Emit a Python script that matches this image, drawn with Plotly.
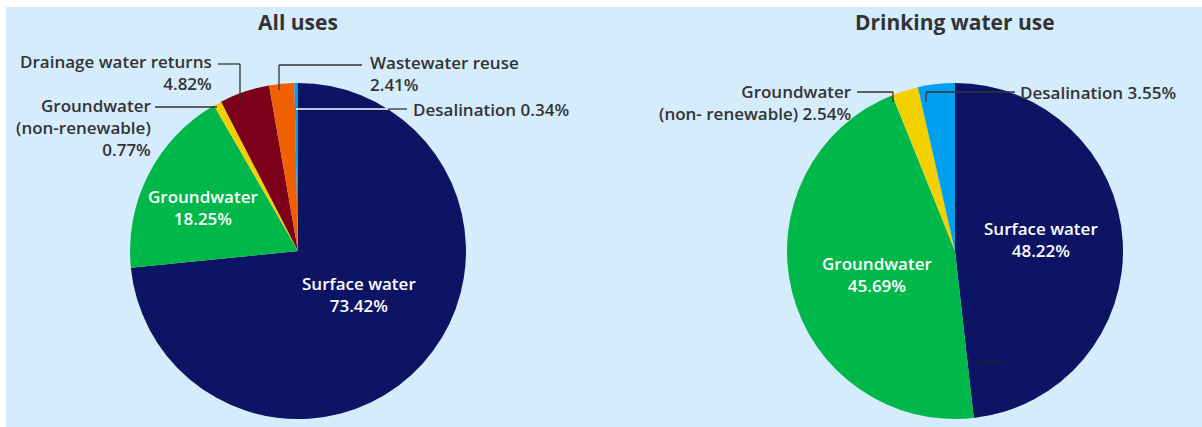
import plotly.graph_objects as go

W, H = 1202, 427

# ---- data ----
all_labels = ["Surface water", "Groundwater", "Groundwater (non-renewable)",
              "Drainage water returns", "Wastewater reuse", "Desalination"]
all_values = [73.42, 18.25, 0.77, 4.82, 2.41, 0.34]
all_colors = ["#0e1464", "#00b84a", "#f5d000", "#7d001a", "#f06000", "#00a0f0"]

drink_labels = ["Surface water", "Groundwater", "Groundwater (non-renewable)", "Desalination"]
drink_values = [48.22, 45.69, 2.54, 3.55]
drink_colors = ["#0e1464", "#00b84a", "#f5d000", "#00a0f0"]

titles = ["All uses", "Drinking water use"]

FONT = "Open Sans"
TXT = "#333333"


def px(x, y):
    return x / W, 1 - y / H


def dom(cx, cy, r):
    return dict(x=[(cx - r) / W, (cx + r) / W], y=[1 - (cy + r) / H, 1 - (cy - r) / H])


fig = go.Figure()
fig.add_trace(go.Pie(labels=all_labels, values=all_values, sort=False, direction="clockwise",
                     rotation=0, marker=dict(colors=all_colors, line=dict(width=0)),
                     textinfo="none", hoverinfo="label+percent", domain=dom(298, 251, 168),
                     showlegend=False))
fig.add_trace(go.Pie(labels=drink_labels, values=drink_values, sort=False, direction="clockwise",
                     rotation=0, marker=dict(colors=drink_colors, line=dict(width=0)),
                     textinfo="none", hoverinfo="label+percent", domain=dom(955, 251, 168),
                     showlegend=False))

shapes = []
# background panel
x0, y1 = px(6, 7)
shapes.append(dict(type="rect", xref="paper", yref="paper", x0=x0, x1=1, y0=0, y1=y1,
                   fillcolor="#d5ecfd", line=dict(width=0), layer="below"))


def line(pts, color="#333333", w=1.3):
    for (ax, ay), (bx, by) in zip(pts[:-1], pts[1:]):
        a = px(ax, ay)
        b = px(bx, by)
        shapes.append(dict(type="line", xref="paper", yref="paper", x0=a[0], y0=a[1],
                           x1=b[0], y1=b[1], line=dict(color=color, width=w)))


# left pie leaders
line([(218, 64), (240, 64), (240, 100)])
line([(362, 65), (279, 65), (279, 90)])
line([(296, 109), (388, 109)], color="#ffffff")
line([(388, 109), (407, 109)])
line([(155, 107), (217, 107)])
# right pie leaders
line([(857, 92), (893, 92), (893, 102)])
line([(1015, 92), (926, 92), (926, 102)])
line([(977, 362), (1003, 362)], color="#222222")

annotations = []


def ann(text, x, y, anchor="center", color=TXT, size=17, weight=600):
    ax, ay = px(x, y)
    annotations.append(dict(text=text, x=ax, y=ay,
                            xref="paper", yref="paper", xanchor=anchor, yanchor="middle",
                            showarrow=False, align={"left": "left", "right": "right"}.get(anchor, "center"),
                            font=dict(family=FONT, size=size, color=color, weight=weight)))


ann(titles[0], 298, 22, size=21, weight=700)
ann(titles[1], 955, 22, size=21, weight=700)

ann(f"{all_labels[3]}<br>{all_values[3]:.2f}%", 214, 73, anchor="right")
ann(f"{all_labels[4]}<br>{all_values[4]:.2f}%", 368, 74, anchor="left")
ann(f"{all_labels[5]} {all_values[5]:.2f}%", 411, 109, anchor="left")
ann(f"Groundwater<br>(non-renewable)<br>{all_values[2]:.2f}%", 153, 127, anchor="right")
ann(f"{all_labels[0]}<br>{all_values[0]:.2f}%", 359, 294, color="#ffffff")
ann(f"{all_labels[1]}<br>{all_values[1]:.2f}%", 203, 207, color="#ffffff")

ann(f"Groundwater<br>(non- renewable) {drink_values[2]:.2f}%", 854, 102, anchor="right")
ann(f"{drink_labels[3]} {drink_values[3]:.2f}%", 1018, 92, anchor="left")
ann(f"{drink_labels[0]}<br>{drink_values[0]:.2f}%", 1041, 240, color="#ffffff")
ann(f"{drink_labels[1]}<br>{drink_values[1]:.2f}%", 877, 274, color="#ffffff")

fig.update_layout(width=W, height=H, margin=dict(l=0, r=0, t=0, b=0),
                  paper_bgcolor="#ffffff", plot_bgcolor="#ffffff",
                  shapes=shapes, annotations=annotations,
                  font=dict(family=FONT, color=TXT))
fig.write_html("out.html")
